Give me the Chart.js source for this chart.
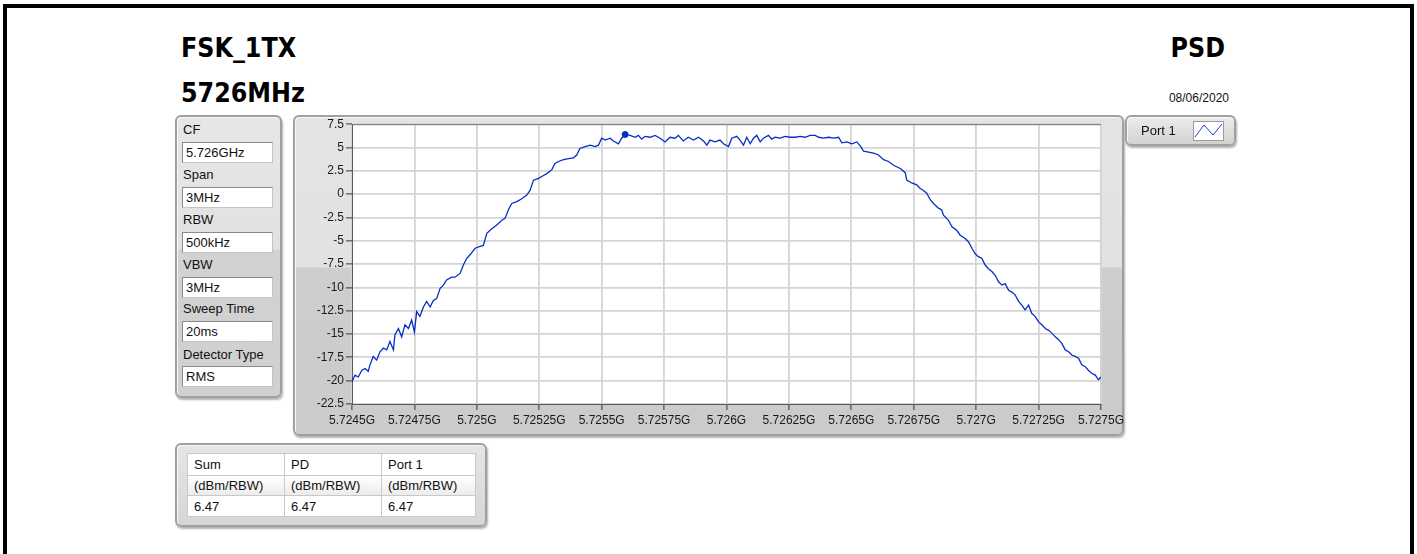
<!DOCTYPE html>
<html>
<head>
<meta charset="utf-8">
<title>PSD</title>
<script src="https://cdn.jsdelivr.net/npm/chart.js@4.4.1/dist/chart.umd.min.js"></script>
<style>
  html, body { margin: 0; padding: 0; background: #fff; }
  body { width: 1417px; height: 554px; position: relative; overflow: hidden;
         font-family: "Liberation Sans", Arial, sans-serif; color: #111; }
  .frame { position: absolute; left: 3px; top: 4px; width: 1403px; height: 600px;
           border-left: 4px solid #000; border-top: 4px solid #000; border-right: 4px solid #000; }
  .title { position: absolute; font-family: "DejaVu Sans Condensed", "DejaVu Sans", sans-serif;
           font-weight: bold; font-size: 26.5px; line-height: 26px; white-space: nowrap; color: #000; }
  .date { position: absolute; font-size: 12px; line-height: 12px; color: #111; }
  .panel { position: absolute; box-sizing: border-box; border: 2px solid #a0a0a0; border-radius: 6px;
           box-shadow: 1px 2px 2px rgba(0,0,0,.3), inset 1px 1px 0 #f8f8f8; }
  .lbl { position: absolute; left: 183px; height: 20px; line-height: 20px; font-size: 13px; color: #111; white-space: nowrap; }
  .inp { position: absolute; left: 182px; width: 91px; height: 21px; box-sizing: border-box; background: #fff;
         border: 1px solid #8a8a8a; border-bottom-color: #c4c4c4; border-right-color: #c4c4c4;
         font-size: 13px; line-height: 19px; padding-left: 3px; white-space: nowrap; }
  #chartBox { position: absolute; left: 293px; top: 115px; width: 870px; height: 320px; z-index: 2; }
  #legend { z-index: 3; }
  table.res { position: absolute; left: 187px; top: 453px; width: 289px; border-collapse: collapse;
              font-size: 13px; background: #fff; z-index: 2; }
  table.res td { border: 1px solid #c9c9c9; padding: 0 0 0 6px; white-space: nowrap; }
</style>
</head>
<body>
<div class="frame"></div>

<div class="title" style="left:181px; top:35px;">FSK_1TX</div>
<div class="title" style="left:181px; top:80px;">5726MHz</div>
<div class="title" style="right:192px; top:35px;">PSD</div>
<div class="date" style="right:188px; top:92px;">08/06/2020</div>

<!-- settings panel -->
<div class="panel" style="left:175px; top:115px; width:107px; height:283px;
     background: linear-gradient(#e6e6e6 0, #e2e2e2 132px, #d2d2d2 133px, #d0d0d0 100%);"></div>
<div class="lbl" style="top:120px;">CF</div>
<div class="inp" style="top:142px;">5.726GHz</div>
<div class="lbl" style="top:165px;">Span</div>
<div class="inp" style="top:187px;">3MHz</div>
<div class="lbl" style="top:210px;">RBW</div>
<div class="inp" style="top:232px;">500kHz</div>
<div class="lbl" style="top:255px;">VBW</div>
<div class="inp" style="top:277px;">3MHz</div>
<div class="lbl" style="top:299px;">Sweep Time</div>
<div class="inp" style="top:321px;">20ms</div>
<div class="lbl" style="top:345px;">Detector Type</div>
<div class="inp" style="top:366px;">RMS</div>

<!-- graph panel -->
<div class="panel" style="left:293px; top:115px; width:831px; height:321px;
     background: linear-gradient(#e4e4e4 0, #e2e2e2 150px, #cecece 151px, #cbcbcb 100%);"></div>
<div id="chartBox"><canvas id="psd" width="870" height="320"></canvas></div>

<!-- legend -->
<div id="legend" class="panel" style="left:1125px; top:115px; width:111px; height:31px;
     background: linear-gradient(#ececec, #d2d2d2);">
  <div style="position:absolute; left:14px; top:4px; font-size:13px; line-height:20px;">Port 1</div>
  <svg style="position:absolute; left:66px; top:4px;" width="31" height="20">
    <rect x="0.5" y="0.5" width="30" height="19" fill="#fff" stroke="#9a9a9a"/>
    <polyline points="2,16 11,4 20,14 29,3" fill="none" stroke="#1a3fd0" stroke-width="1"/>
  </svg>
</div>

<!-- result table -->
<div class="panel" style="left:175px; top:443px; width:312px; height:84px;
     background: linear-gradient(#e6e6e6, #d6d6d6);"></div>
<table class="res">
  <tr style="height:22px;"><td style="width:90px;">Sum</td><td style="width:90px;">PD</td><td>Port 1</td></tr>
  <tr style="height:20px; background: linear-gradient(#ffffff, #ebebeb);"><td>(dBm/RBW)</td><td>(dBm/RBW)</td><td>(dBm/RBW)</td></tr>
  <tr style="height:21px;"><td>6.47</td><td>6.47</td><td>6.47</td></tr>
</table>

<script>
// trace: frequency (MHz) and level (dBm/RBW)
const freqMHz = [
  5724.500, 5724.512, 5724.525, 5724.539, 5724.552, 5724.565, 5724.572, 5724.585, 5724.599, 5724.612,
  5724.626, 5724.639, 5724.652, 5724.666, 5724.672, 5724.686, 5724.699, 5724.712, 5724.726, 5724.739,
  5724.750, 5724.759, 5724.772, 5724.786, 5724.799, 5724.813, 5724.826, 5724.839, 5724.853, 5724.866,
  5724.879, 5724.899, 5724.913, 5724.933, 5724.946, 5724.959, 5724.973, 5724.993, 5725.013, 5725.026,
  5725.040, 5725.060, 5725.080, 5725.100, 5725.113, 5725.126, 5725.140, 5725.160, 5725.180, 5725.200,
  5725.213, 5725.227, 5725.247, 5725.267, 5725.280, 5725.300, 5725.313, 5725.327, 5725.347, 5725.367,
  5725.387, 5725.400, 5725.413, 5725.434, 5725.454, 5725.474, 5725.487, 5725.500, 5725.514, 5725.534,
  5725.547, 5725.567, 5725.580, 5725.594, 5725.614, 5725.634, 5725.647, 5725.660, 5725.674, 5725.694,
  5725.714, 5725.734, 5725.754, 5725.774, 5725.794, 5725.807, 5725.827, 5725.847, 5725.868, 5725.888,
  5725.908, 5725.921, 5725.934, 5725.954, 5725.974, 5725.988, 5726.008, 5726.021, 5726.041, 5726.054,
  5726.068, 5726.081, 5726.095, 5726.108, 5726.121, 5726.135, 5726.148, 5726.168, 5726.181, 5726.195,
  5726.215, 5726.235, 5726.255, 5726.275, 5726.295, 5726.315, 5726.335, 5726.355, 5726.369, 5726.389,
  5726.409, 5726.429, 5726.449, 5726.462, 5726.482, 5726.502, 5726.522, 5726.538, 5726.549, 5726.569,
  5726.589, 5726.609, 5726.629, 5726.649, 5726.669, 5726.696, 5726.716, 5726.722, 5726.742, 5726.762,
  5726.776, 5726.789, 5726.802, 5726.816, 5726.829, 5726.849, 5726.862, 5726.869, 5726.889, 5726.903,
  5726.923, 5726.936, 5726.956, 5726.969, 5726.983, 5726.996, 5727.009, 5727.023, 5727.036, 5727.049,
  5727.063, 5727.076, 5727.090, 5727.103, 5727.116, 5727.130, 5727.143, 5727.156, 5727.170, 5727.183,
  5727.196, 5727.210, 5727.223, 5727.236, 5727.250, 5727.263, 5727.277, 5727.290, 5727.303, 5727.317,
  5727.330, 5727.343, 5727.357, 5727.370, 5727.383, 5727.397, 5727.410, 5727.423, 5727.437, 5727.450,
  5727.463, 5727.477, 5727.490, 5727.500
];
const psdDbm = [
  -20.1, -19.4, -19.6, -18.9, -18.7, -19.0, -18.3, -17.4, -17.8, -16.9,
  -16.5, -16.7, -15.8, -16.7, -15.1, -14.4, -15.3, -14.0, -14.4, -13.5,
  -14.8, -12.6, -13.1, -12.1, -11.5, -12.1, -11.4, -11.2, -10.1, -9.75,
  -9.2, -8.9, -8.9, -8.5, -7.6, -6.9, -6.5, -5.8, -5.6, -5.5,
  -4.2, -3.7, -3.3, -2.8, -2.6, -1.7, -1.0, -0.8, -0.5, -0.1,
  0.4, 1.5, 1.7, 2.0, 2.2, 2.6, 3.3, 3.5, 3.7, 3.8,
  3.9, 4.2, 4.9, 5.1, 5.25, 5.1, 5.25, 6.0, 5.8, 6.0,
  5.7, 5.4, 6.0, 6.4, 6.3, 6.1, 6.3, 5.9, 6.2, 6.1,
  6.3, 6.0, 5.6, 6.1, 6.0, 6.3, 5.7, 6.1, 5.8, 6.1,
  5.7, 5.25, 5.8, 5.6, 5.8, 5.4, 5.1, 6.0, 6.2, 5.8,
  5.25, 6.1, 5.4, 6.0, 6.3, 5.6, 6.0, 6.3, 5.9, 6.1,
  6.0, 6.2, 6.1, 6.1, 6.2, 6.1, 6.3, 6.3, 6.1, 6.0,
  6.1, 6.0, 6.1, 5.5, 5.6, 5.4, 5.6, 5.1, 4.6, 4.5,
  4.4, 4.2, 3.7, 3.5, 3.1, 2.75, 2.3, 1.5, 1.2, 1.0,
  0.6, 0.4, 0.1, -0.6, -1.0, -1.5, -1.7, -2.25, -2.8, -3.5,
  -3.9, -4.4, -4.75, -5.1, -5.8, -6.4, -6.7, -6.9, -7.6, -8.0,
  -8.3, -8.7, -9.4, -9.75, -9.6, -10.3, -10.5, -10.8, -11.5, -11.9,
  -12.4, -11.9, -12.8, -13.1, -13.7, -14.0, -14.4, -14.6, -14.9, -15.3,
  -15.6, -16.0, -16.7, -16.9, -17.25, -17.4, -17.6, -18.3, -18.5, -18.9,
  -19.2, -19.4, -19.9, -19.6
];

// peak marker
const markerFreq = [5725.594];
const markerPsd = [6.4];

const xTickValues = [5724.5, 5724.75, 5725, 5725.25, 5725.5, 5725.75, 5726, 5726.25, 5726.5, 5726.75, 5727, 5727.25, 5727.5];
const xTickLabels = ["5.7245G", "5.72475G", "5.725G", "5.72525G", "5.7255G", "5.72575G", "5.726G",
                     "5.72625G", "5.7265G", "5.72675G", "5.727G", "5.72725G", "5.7275G"];
const yTickValues = [-22.5, -20, -17.5, -15, -12.5, -10, -7.5, -5, -2.5, 0, 2.5, 5, 7.5];
const yTickLabels = ["-22.5", "-20", "-17.5", "-15", "-12.5", "-10", "-7.5", "-5", "-2.5", "0", "2.5", "5", "7.5"];

const traceColor = "#062ec4";
const tickFont = { family: "Liberation Sans", size: 12 };

// white plot area and the dark top edge of the graph
const plotFrame = {
  id: "plotFrame",
  beforeDraw(chart) {
    const { ctx, chartArea: a } = chart;
    ctx.save();
    ctx.fillStyle = "#fff";
    ctx.fillRect(a.left, a.top, a.right - a.left, a.bottom - a.top);
    ctx.restore();
  },
  afterDraw(chart) {
    const { ctx, chartArea: a } = chart;
    ctx.save();
    ctx.strokeStyle = "#6e6e6e";
    ctx.lineWidth = 1;
    ctx.beginPath();
    ctx.moveTo(a.left, a.top + 0.5);
    ctx.lineTo(a.right, a.top + 0.5);
    ctx.stroke();
    ctx.restore();
  }
};

new Chart(document.getElementById("psd"), {
  type: "line",
  data: {
    datasets: [
      {
        label: "Port 1",
        data: freqMHz.map((f, i) => ({ x: f, y: psdDbm[i] })),
        borderColor: traceColor,
        borderWidth: 1.3,
        pointRadius: 0,
        tension: 0
      },
      {
        label: "Marker",
        data: markerFreq.map((f, i) => ({ x: f, y: markerPsd[i] })),
        showLine: false,
        pointRadius: 3,
        pointBackgroundColor: traceColor,
        pointBorderColor: traceColor
      }
    ]
  },
  options: {
    responsive: false,
    animation: false,
    layout: { padding: { top: 9, right: 62, left: 0, bottom: 0 } },
    plugins: { legend: { display: false }, tooltip: { enabled: false } },
    scales: {
      x: {
        type: "linear",
        min: xTickValues[0],
        max: xTickValues[xTickValues.length - 1],
        afterBuildTicks: scale => { scale.ticks = xTickValues.map(v => ({ value: v })); },
        afterFit: scale => { scale.height = 31; },
        ticks: {
          autoSkip: false, maxRotation: 0, padding: 3, color: "#1a1a1a", font: tickFont,
          callback: (value, index) => xTickLabels[index]
        },
        grid: { color: "#d4d4d4", lineWidth: 1.8, tickLength: 6, tickColor: "#333", tickWidth: 1 },
        border: { color: "#5a5a5a", width: 1 }
      },
      y: {
        min: yTickValues[0],
        max: yTickValues[yTickValues.length - 1],
        afterBuildTicks: scale => { scale.ticks = yTickValues.map(v => ({ value: v })); },
        afterFit: scale => { scale.width = 59; },
        ticks: {
          autoSkip: false, padding: 2, color: "#1a1a1a", font: tickFont,
          callback: (value, index) => yTickLabels[index]
        },
        grid: { color: "#d4d4d4", lineWidth: 1.8, tickLength: 6, tickColor: "#333", tickWidth: 1 },
        border: { color: "#5a5a5a", width: 1 }
      }
    }
  },
  plugins: [plotFrame]
});
</script>
</body>
</html>
